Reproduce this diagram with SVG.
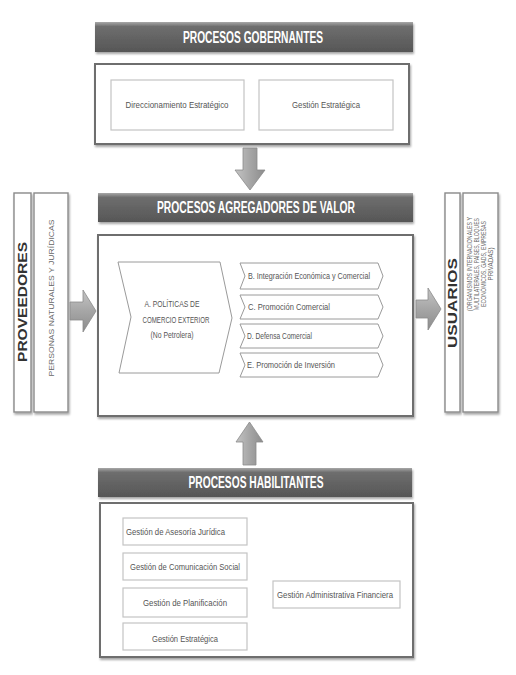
<svg xmlns="http://www.w3.org/2000/svg" width="516" height="675" viewBox="0 0 516 675">
<defs>
<linearGradient id="hdr" x1="0" y1="0" x2="0" y2="1">
<stop offset="0" stop-color="#a8a8a8"/>
<stop offset="0.15" stop-color="#6e6e6e"/>
<stop offset="1" stop-color="#565656"/>
</linearGradient>
<linearGradient id="arrH" x1="0" y1="0" x2="0" y2="1">
<stop offset="0" stop-color="#c4c4c4"/>
<stop offset="0.5" stop-color="#a6a6a6"/>
<stop offset="1" stop-color="#8c8c8c"/>
</linearGradient>
<linearGradient id="arrV" x1="0" y1="0" x2="1" y2="0">
<stop offset="0" stop-color="#c4c4c4"/>
<stop offset="0.5" stop-color="#a6a6a6"/>
<stop offset="1" stop-color="#8c8c8c"/>
</linearGradient>
<filter id="sh" x="-10%" y="-10%" width="120%" height="130%">
<feDropShadow dx="1" dy="2" stdDeviation="1.2" flood-color="#000" flood-opacity="0.35"/>
</filter>
</defs>
<style>
.hdr{fill:url(#hdr);filter:url(#sh)}
.htxt{font-family:"Liberation Sans",Arial,sans-serif;font-size:16px;font-weight:bold;fill:#fff;text-anchor:middle}
.box{fill:#fff;stroke:#6e6e6e;stroke-width:2;filter:url(#sh)}
.ibox{fill:#fff;stroke:#c4c4c4;stroke-width:1.2}
.ibox2{fill:#fff;stroke:#8a8a8a;stroke-width:1.4}
.chev{fill:#fff;stroke:#9a9a9a;stroke-width:1}
.t{font-family:"Liberation Sans",Arial,sans-serif;font-size:9px;fill:#555}
.tm{text-anchor:middle}
.bt{font-family:"Liberation Sans",Arial,sans-serif;font-size:12px;font-weight:bold;fill:#333;text-anchor:middle}
.st{font-family:"Liberation Sans",Arial,sans-serif;font-size:6.5px;fill:#666;text-anchor:middle}
.arrH{fill:url(#arrH);stroke:#8a8a8a;stroke-width:0.8}
.arrV{fill:url(#arrV);stroke:#8a8a8a;stroke-width:0.8}
</style>

<g id="gobernantes">
<rect class="hdr" x="95" y="22" width="318" height="30"/>
<text class="htxt" x="253" y="43" textLength="140" lengthAdjust="spacingAndGlyphs">PROCESOS GOBERNANTES</text>
<rect class="box" x="95" y="64" width="314" height="80"/>
</g>
<g id="direccionamiento">
<rect class="ibox" x="111" y="80" width="133" height="50"/>
<text class="t tm" x="177" y="108" textLength="103" lengthAdjust="spacingAndGlyphs">Direccionamiento Estratégico</text>
</g>
<g id="gestion-estrategica-gob">
<rect class="ibox" x="259" y="80" width="134" height="50"/>
<text class="t tm" x="326" y="108" textLength="68" lengthAdjust="spacingAndGlyphs">Gestión Estratégica</text>
</g>

<g id="agregadores">
<rect class="hdr" x="98" y="193" width="315" height="29"/>
<text class="htxt" x="256" y="213" textLength="198" lengthAdjust="spacingAndGlyphs">PROCESOS AGREGADORES DE VALOR</text>
<rect class="box" x="98" y="235" width="315" height="181"/>
</g>
<g id="politicas">
<path class="chev" d="M118,262 L220,262 L232,318 L219,373 L119,373 L131,317 Z"/>
<text class="t tm" x="172" y="307" font-size="7.5" textLength="55" lengthAdjust="spacingAndGlyphs">A. POLÍTICAS DE</text>
<text class="t tm" x="176" y="323" font-size="7.5" textLength="67" lengthAdjust="spacingAndGlyphs">COMERCIO EXTERIOR</text>
<text class="t tm" x="172" y="338" font-size="7.5" textLength="43" lengthAdjust="spacingAndGlyphs">(No Petrolera)</text>
</g>
<g id="integracion">
<path class="chev" d="M240,263 L378,263 L383,276 L378,289 L240,289 L245,276 Z"/>
<text class="t" x="248" y="279" textLength="122" lengthAdjust="spacingAndGlyphs">B. Integración Económica y Comercial</text>
</g>
<g id="promocion-comercial">
<path class="chev" d="M240,295 L378,295 L383,307 L378,319 L240,319 L245,307 Z"/>
<text class="t" x="248" y="310" textLength="82" lengthAdjust="spacingAndGlyphs">C. Promoción Comercial</text>
</g>
<g id="defensa">
<path class="chev" d="M240,324 L378,324 L383,336 L378,348 L240,348 L245,336 Z"/>
<text class="t" x="247" y="339" textLength="65" lengthAdjust="spacingAndGlyphs">D.  Defensa Comercial</text>
</g>
<g id="inversion">
<path class="chev" d="M240,353 L378,353 L383,365 L378,377 L240,377 L245,365 Z"/>
<text class="t" x="247" y="368" textLength="88" lengthAdjust="spacingAndGlyphs">E.  Promoción de Inversión</text>
</g>

<g id="proveedores">
<rect class="ibox2" x="14" y="193" width="17" height="219" filter="url(#sh)"/>
<rect class="ibox2" x="34" y="193" width="34" height="219" filter="url(#sh)"/>
<text class="bt" transform="translate(27,302) rotate(-90)" textLength="120" lengthAdjust="spacingAndGlyphs">PROVEEDORES</text>
<text class="st" transform="translate(53.5,298) rotate(-90)" textLength="157" lengthAdjust="spacingAndGlyphs">PERSONAS NATURALES Y JURÍDICAS</text>
</g>

<g id="usuarios">
<rect class="ibox2" x="445" y="193" width="15" height="219" filter="url(#sh)"/>
<rect class="ibox2" x="463" y="193" width="35" height="219" filter="url(#sh)"/>
<text class="bt" transform="translate(457,303) rotate(-90)" textLength="90" lengthAdjust="spacingAndGlyphs">USUARIOS</text>
<text class="st" transform="translate(472,264) rotate(-90)" textLength="94" lengthAdjust="spacingAndGlyphs">(ORGANISMOS INTERNACIONALES Y</text>
<text class="st" transform="translate(479,264) rotate(-90)" textLength="92" lengthAdjust="spacingAndGlyphs">MULTILATERALES, PAÍSES, BLOQUES</text>
<text class="st" transform="translate(486,264) rotate(-90)" textLength="86" lengthAdjust="spacingAndGlyphs">ECONÓMICOS, GADS, EMPRESAS</text>
<text class="st" transform="translate(493,264) rotate(-90)" textLength="33" lengthAdjust="spacingAndGlyphs">PRIVADAS)</text>
</g>

<g id="habilitantes">
<rect class="hdr" x="98" y="468" width="314" height="29"/>
<text class="htxt" x="256" y="488" textLength="135" lengthAdjust="spacingAndGlyphs">PROCESOS HABILITANTES</text>
<rect class="box" x="100" y="503" width="313" height="154"/>
</g>
<g id="asesoria">
<rect class="ibox" x="123" y="518" width="124" height="27"/>
<text class="t" x="126" y="535" textLength="99" lengthAdjust="spacingAndGlyphs">Gestión de Asesoría Jurídica</text>
</g>
<g id="comunicacion">
<rect class="ibox" x="123" y="553" width="124" height="27"/>
<text class="t" x="130" y="570" textLength="110" lengthAdjust="spacingAndGlyphs">Gestión de Comunicación Social</text>
</g>
<g id="planificacion">
<rect class="ibox" x="123" y="588" width="124" height="29"/>
<text class="t tm" x="185" y="606" textLength="84" lengthAdjust="spacingAndGlyphs">Gestión de Planificación</text>
</g>
<g id="gestion-estrategica-hab">
<rect class="ibox" x="123" y="623" width="124" height="27"/>
<text class="t tm" x="185" y="642" textLength="66" lengthAdjust="spacingAndGlyphs">Gestión Estratégica</text>
</g>
<g id="administrativa">
<rect class="ibox" x="273" y="581" width="127" height="27"/>
<text class="t tm" x="335" y="598" textLength="116" lengthAdjust="spacingAndGlyphs">Gestión Administrativa Financiera</text>
</g>

<g id="connectors">
<path class="arrV" d="M243,148 L257,148 L257,170 L265,170 L250,190 L235,170 L243,170 Z"/>
<path class="arrV" d="M243,465 L256,465 L256,442 L263,442 L249.5,422 L236,442 L243,442 Z"/>
<path class="arrH" d="M70,302 L83,302 L83,290 L96,311 L83,332 L83,320 L70,320 Z"/>
<path class="arrH" d="M416,300 L428,300 L428,288 L441,309 L428,330 L428,318 L416,318 Z"/>
</g>
</svg>
